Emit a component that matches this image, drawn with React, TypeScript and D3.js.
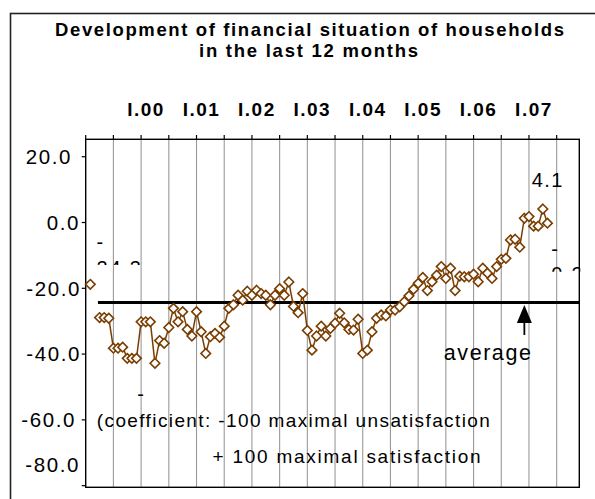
import React from 'react';
import * as d3 from 'd3';

// ---------- data ----------
const titleLines = ['Development of financial situation of households', 'in the  last 12 months'];
const yearLabels = ['I.00', 'I.01', 'I.02', 'I.03', 'I.04', 'I.05', 'I.06', 'I.07'];
const yTicks = [20, 0, -20, -40, -60, -80];
const firstMonth = 1; // month index of first value (months counted from the left edge)
const values: (number | null)[] = [
  -18.8, null, -28.9, -28.9, -29.1, -38.2, -38.2, -37.9, -41.3, -41.3,
  -41.3, -30.2, -30.2, -30.2, -42.8, -35.9, -36.7, -31.9, -26.1, -30.2,
  -27.1, -32.5, -34.5, -27.1, -33.2, -39.8, -34.7, -33.7, -34.9, -31.5,
  -26.1, -25.0, -22.1, -23.6, -20.9, -22.1, -20.6, -21.6, -22.1, -25.0,
  -22.1, -20.1, -22.1, -18.1, -25.5, -27.4, -21.6, -32.8, -38.8, -34.5,
  -31.5, -34.5, -32.2, -30.6, -27.6, -30.5, -32.5, -32.7, -29.4, -39.8,
  -38.8, -33.2, -29.1, -28.1, -28.4, -26.6, -26.6, -25.6, -24.1, -22.3,
  -20.3, -18.5, -16.7, -20.7, -18.0, -16.0, -13.4, -17.0, -13.9, -20.7,
  -16.3, -16.5, -16.5, -15.7, -18.0, -13.9, -15.4, -17.0, -13.4, -11.2,
  -10.9, -5.3, -5.1, -7.5, 1.3, 1.8, -1.1, -1.1, 4.1, -0.2,
];
const average = -24.3;
const noteLines = ['(coefficient: -100  maximal unsatisfaction', '+ 100  maximal  satisfaction'];

// ---------- layout ----------
const W = 595;
const H = 499;
const plot = { left: 85.7, right: 579.3, top: 139.3, bottom: 487.3 };
const brown = '#7a3d00';
const tickLabelRight = [72, 80, 81, 81, 76, 80];

const x = d3.scaleLinear().domain([0, 106.9]).range([plot.left, plot.right]);
const y = d3.scaleLinear().domain([-80.5, 25.3]).range([plot.bottom, plot.top]);

type Pt = { m: number; v: number | null };
const points: Pt[] = values.map((v, i) => ({ m: firstMonth + i, v }));

const line = d3
  .line<Pt>()
  .defined((d) => d.v !== null)
  .x((d) => x(d.m))
  .y((d) => y(d.v as number));

const gridMonths = d3.range(6, 106, 6);
const tickMonths = d3.range(0, 106, 6);

const font = "'Liberation Sans', Arial, Helvetica, sans-serif";

function Diamond({ cx, cy }: { cx: number; cy: number }) {
  const r = 4.8;
  return (
    <path
      d={`M${cx},${cy - r}L${cx + r},${cy}L${cx},${cy + r}L${cx - r},${cy}Z`}
      fill="#fff"
      stroke={brown}
      strokeWidth={1.6}
    />
  );
}

function WrappedLabel({ id, x0, y1, y2, clipY, text, clipRight }: { id: string; x0: number; y1: number; y2: number; clipY: number; text: string; clipRight?: number }) {
  return (
    <g>
      <clipPath id={id}>
        <rect x={x0 - 5} y={y1 - 30} width={(clipRight ?? x0 + 80) - (x0 - 5)} height={clipY - (y1 - 30)} />
      </clipPath>
      <g clipPath={`url(#${id})`} fontFamily={font} fontSize={20} fill="#000" letterSpacing={1.8}>
        <text x={x0} y={y1}>-</text>
        <text x={x0} y={y2}>{text}</text>
      </g>
    </g>
  );
}

export default function App() {
  const avgY = y(average);
  const arrowX = x(95);
  const minIdx = values.indexOf(-42.8);
  const maxIdx = values.indexOf(4.1);
  const lastIdx = values.length - 1;
  return (
    <svg
      width={W}
      height={H}
      viewBox={`0 0 ${W} ${H}`}
      style={{ position: 'absolute', left: 0, top: 0, background: '#fff' }}
    >
      <rect x={0} y={0} width={W} height={H} fill="#fff" />
      {/* outer frame */}
      <rect x={10.5} y={13.5} width={W + 20} height={H + 20} fill="none" stroke="#222" strokeWidth={1.6} />

      {/* title */}
      <text x={309.5} y={36} textAnchor="middle" fontFamily={font} fontWeight="bold" fontSize={18.5} textLength={509} lengthAdjust="spacing">
        {titleLines[0]}
      </text>
      <text x={308.5} y={57} textAnchor="middle" fontFamily={font} fontWeight="bold" fontSize={18.5} textLength={219} lengthAdjust="spacing">
        {titleLines[1]}
      </text>

      {/* year labels */}
      {yearLabels.map((t, k) => (
        <text key={t} x={x(12 * (k + 1)) + 5} y={116} textAnchor="middle" fontFamily={font} fontWeight="bold" fontSize={19} letterSpacing={1.5}>
          {t}
        </text>
      ))}

      {/* vertical grid */}
      {gridMonths.map((m) => (
        <line key={m} x1={x(m)} x2={x(m)} y1={plot.top} y2={plot.bottom} stroke="#9a9a9a" strokeWidth={1.1} />
      ))}
      {/* top ticks */}
      {tickMonths.map((m) => (
        <line key={'t' + m} x1={x(m)} x2={x(m)} y1={135} y2={plot.top} stroke="#000" strokeWidth={1.2} />
      ))}

      {/* plot frame */}
      <rect x={plot.left} y={plot.top} width={plot.right - plot.left} height={plot.bottom - plot.top} fill="none" stroke="#000" strokeWidth={1.4} />

      {/* y ticks & labels */}
      {yTicks.map((v, i) => (
        <g key={v}>
          <line x1={plot.left - 4} x2={plot.left} y1={y(v)} y2={y(v)} stroke="#000" strokeWidth={1.2} />
          <text
            x={tickLabelRight[i]}
            y={y(v) + (i === yTicks.length - 1 ? -21 : 0)}
            dy="0.36em"
            textAnchor="end"
            fontFamily={font}
            fontSize={20.5}
            letterSpacing={1.6}
          >
            {v.toFixed(1)}
          </text>
        </g>
      ))}

      {/* average line */}
      <line x1={x(2.65)} x2={plot.right} y1={avgY} y2={avgY} stroke="#000" strokeWidth={3} />

      {/* series */}
      <path d={line(points) || ''} fill="none" stroke={brown} strokeWidth={1.5} />
      {points.filter((d) => d.v !== null).map((d) => (
        <Diamond key={d.m} cx={x(d.m)} cy={y(d.v as number)} />
      ))}

      {/* data labels */}
      <WrappedLabel id="lblA" x0={x(2.34)} y1={249} y2={275} clipY={265} text={Math.abs(average).toFixed(1)} />
      <WrappedLabel id="lblMin" x0={x(firstMonth + minIdx) - 17.6} y1={400.5} y2={428} clipY={413.5} text={Math.abs(values[minIdx] as number).toFixed(1)} />
      <WrappedLabel id="lblLast" x0={x(firstMonth + lastIdx) + 3.7} y1={255.7} y2={281} clipY={271.7} text={Math.abs(values[lastIdx] as number).toFixed(1)} clipRight={plot.right + 1} />
      <text x={x(firstMonth + maxIdx) + 5} y={186.7} textAnchor="middle" fontFamily={font} fontSize={20} letterSpacing={1.5}>
        {(values[maxIdx] as number).toFixed(1)}
      </text>

      {/* arrow */}
      <line x1={arrowX} x2={arrowX} y1={320} y2={335} stroke="#000" strokeWidth={1.8} />
      <path d={`M${arrowX},${avgY + 2.5}L${arrowX + 7.5},${avgY + 20.5}L${arrowX - 7.5},${avgY + 20.5}Z`} fill="#000" />
      <text x={arrowX + 6.5} y={360} textAnchor="end" fontFamily={font} fontSize={21.5} textLength={87} lengthAdjust="spacing">
        average
      </text>

      {/* note */}
      <text x={96.8} y={427} fontFamily={font} fontSize={19} textLength={393} lengthAdjust="spacing">
        {noteLines[0]}
      </text>
      <text x={212.6} y={463} fontFamily={font} fontSize={19} textLength={268} lengthAdjust="spacing">
        {noteLines[1]}
      </text>
    </svg>
  );
}
